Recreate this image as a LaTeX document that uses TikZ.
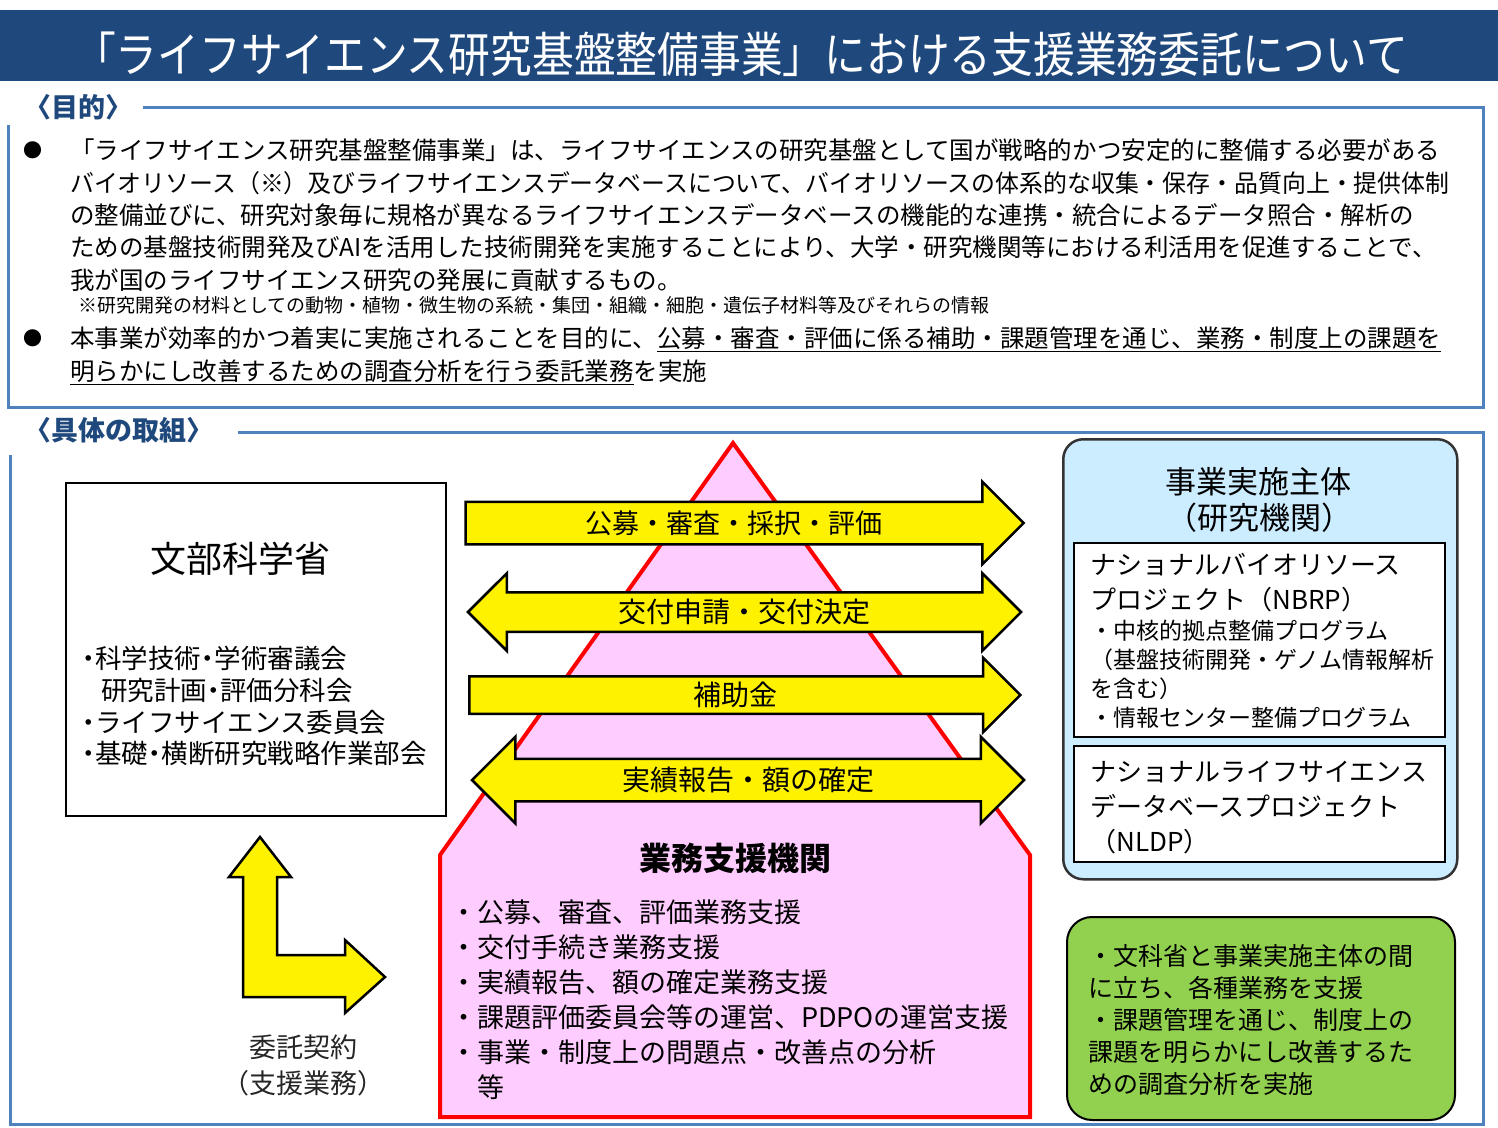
\documentclass[tikz,border=0pt]{standalone}
\usepackage{graphicx}
\usepackage{fontspec}
\setmainfont{Noto Sans CJK JP}
\newfontfamily\titlefont{Noto Sans CJK JP}[FakeStretch=0.87]
\usetikzlibrary{positioning, shapes.arrows}
\newcommand{\setfs}[2]{\fontsize{#1}{#2}\selectfont}
\newcommand{\nk}{\makebox[0.5em]{・}}
\definecolor{titleblue}{RGB}{31,73,125}
\definecolor{lineblue}{RGB}{79,129,189}
\definecolor{supportpink}{RGB}{255,204,255}
\definecolor{bodyblue}{RGB}{204,236,255}
\definecolor{rolegreen}{RGB}{146,208,80}
\tikzset{
  frameline/.style={draw=lineblue, line width=3pt},
  headtxt/.style={anchor=west, text=titleblue, inner sep=0pt, font=\bfseries\setfs{27}{27}},
  para/.style={anchor=north west, align=left, inner sep=0pt, font=\setfs{24.5}{32.3}},
  list/.style={anchor=north west, align=left, inner sep=0pt},
  dot/.style={inner sep=0pt, font=\setfs{19}{19}},
  plainbox/.style={draw=black, line width=2pt, fill=white, inner sep=0pt, anchor=north west},
  pyramid/.style={draw=red, line width=4pt, fill=supportpink, line join=miter},
  onearrow/.style={single arrow, single arrow head extend=#1, draw=black, line width=2.5pt, fill=yellow, inner xsep=0pt, inner ysep=0pt},
  twoarrow/.style={double arrow, double arrow head extend=#1, draw=black, line width=2.5pt, fill=yellow, inner xsep=0pt, inner ysep=0pt}
}
\begin{document}
\begin{tikzpicture}[x=1pt, y=-1pt]
    \useasboundingbox (0,0) rectangle (1498,1127);
    \fill[white] (0,0) rectangle (1498,1127);

    % title
    \node[fill=titleblue, minimum width=1498pt, minimum height=71pt, inner sep=0pt] (bar) at (749,45.5) {};
    \node[text=white, inner sep=0pt, font=\titlefont\setfs{48}{48}] (title) at (741,54) {「ライフサイエンス研究基盤整備事業」における支援業務委託について};

    % purpose
    \node[headtxt] (aim) at (24,107) {〈目的〉};
    \draw[frameline] (143,107) -- (1483,107) -- (1483,407) -- (8,407) -- (8,125);
    \node[dot] (dot1) at (33,150) {●};
    \node[para] (aimtext) at (70,139) {「ライフサイエンス研究基盤整備事業」は、ライフサイエンスの研究基盤として国が戦略的かつ安定的に整備する必要がある\\
    \scalebox{0.975}[1]{バイオリソース（※）及びライフサイエンスデータベースについて、バイオリソースの体系的な収集・保存・品質向上・提供体制}\\
    の整備並びに、研究対象毎に規格が異なるライフサイエンスデータベースの機能的な連携・統合によるデータ照合・解析の\\
    ための基盤技術開発及びAIを活用した技術開発を実施することにより、大学・研究機関等における利活用を促進することで、\\
    我が国のライフサイエンス研究の発展に貢献するもの。};
    \node[list, font=\setfs{19}{19}] (aimnote) at (78,296.5) {※研究開発の材料としての動物・植物・微生物の系統・集団・組織・細胞・遺伝子材料等及びそれらの情報};
    \node[dot] (dot2) at (33,338) {●};
    \node[para] (aimtask) at (70,327) {本事業が効率的かつ着実に実施されることを目的に、\underline{公募・審査・評価に係る補助・課題管理を通じ、業務・制度上の課題を}\\
    \underline{明らかにし改善するための調査分析を行う委託業務}を実施};

    % concrete work
    \node[headtxt] (work) at (24,430) {〈具体の取組〉};
    \draw[frameline] (238,432) -- (1483,432) -- (1483,1124) -- (10,1124) -- (10,455);

    \node[plainbox, minimum width=380pt, minimum height=333pt] (mext) at (65,482) {};
    \node[font=\setfs{36}{36}] (mextname) at (240,559) {文部科学省};
    \node[list, font=\setfs{26.5}{31.7}] (mextlist) at (82,646) {\nk 科学技術\nk 学術審議会\\\hspace*{19pt}研究計画\nk 評価分科会\\\nk ライフサイエンス委員会\\\nk 基礎\nk 横断研究戦略作業部会};

    \draw[pyramid] (733,443) -- (1030,855) -- (1030,1117) -- (440,1117) -- (440,855) -- cycle;
    \node[font=\bfseries\setfs{32}{32}] (supname) at (735,858) {業務支援機関};
    \node[list, font=\setfs{27}{35}] (suplist) at (450,900) {・公募、審査、評価業務支援\\・交付手続き業務支援\\・実績報告、額の確定業務支援\\・課題評価委員会等の運営、PDPOの運営支援\\・事業・制度上の問題点・改善点の分析\\　等};

    \node[onearrow=20pt, minimum height=558pt, text height=30.25pt, text depth=9.75pt, font=\setfs{27}{27}] (kobo) at (734,523) {公募・審査・採択・評価};
    \node[twoarrow=19pt, minimum height=553pt, text height=29.15pt, text depth=7.85pt, font=\setfs{28}{28}] (kofu) at (744.5,612) {交付申請・交付決定};
    \node[onearrow=18.5pt, minimum height=551pt, text height=28.15pt, text depth=6.85pt, font=\setfs{28}{28}] (hojo) at (735.5,695) {補助金};
    \node[twoarrow=22pt, minimum height=552pt, text height=30.65pt, text depth=9.35pt, font=\setfs{28}{28}] (jisseki) at (748,780) {実績報告・額の確定};

    \draw[draw=black, line width=2.5pt, fill=yellow] (243,997) -- (243,877) -- (229,877) -- (260,837) -- (291,877) -- (277,877) -- (277,955) -- (345,955) -- (345,940) -- (385,977) -- (345,1013) -- (345,997) -- cycle;
    \node[align=center, text=black!85, font=\setfs{27}{36}] (itaku) at (303,1065) {委託契約\\（支援業務）};

    % research bodies
    \node[draw=black!80, line width=2.5pt, fill=bodyblue, rounded corners=20pt, inner sep=0pt, anchor=north west, minimum width=394pt, minimum height=440pt] (agent) at (1062,438) {};
    \node[font=\setfs{31}{31}] (agentname) at (1258,482) {事業実施主体};
    \node[font=\setfs{31}{31}] (agentsub) at (1259,518) {（研究機関）};
    \node[plainbox, line width=1.8pt, minimum width=371pt, minimum height=194pt] (nbrp) at (1073,542) {};
    \node[list, font=\setfs{26}{35}] (nbrpname) at (1090,553) {ナショナルバイオリソース\\プロジェクト（NBRP）};
    \node[list, font=\setfs{23}{29}] (nbrpprog) at (1090,619.5) {・中核的拠点整備プログラム\\（基盤技術開発・ゲノム情報解析\\を含む）\\・情報センター整備プログラム};
    \node[plainbox, line width=1.8pt, minimum width=371pt, minimum height=116pt] (nldp) at (1073,745) {};
    \node[list, font=\setfs{26}{35}] (nldpname) at (1090,761) {ナショナルライフサイエンス\\データベースプロジェクト\\（NLDP）};

    \node[draw=black, line width=2pt, fill=rolegreen, rounded corners=25pt, inner sep=0pt, anchor=north west, minimum width=388pt, minimum height=203pt] (role) at (1066,916) {};
    \node[list, font=\setfs{25}{32}] (roletext) at (1088,944) {・文科省と事業実施主体の間\\に立ち、各種業務を支援\\・課題管理を通じ、制度上の\\課題を明らかにし改善するた\\めの調査分析を実施};
\end{tikzpicture}
\end{document}
